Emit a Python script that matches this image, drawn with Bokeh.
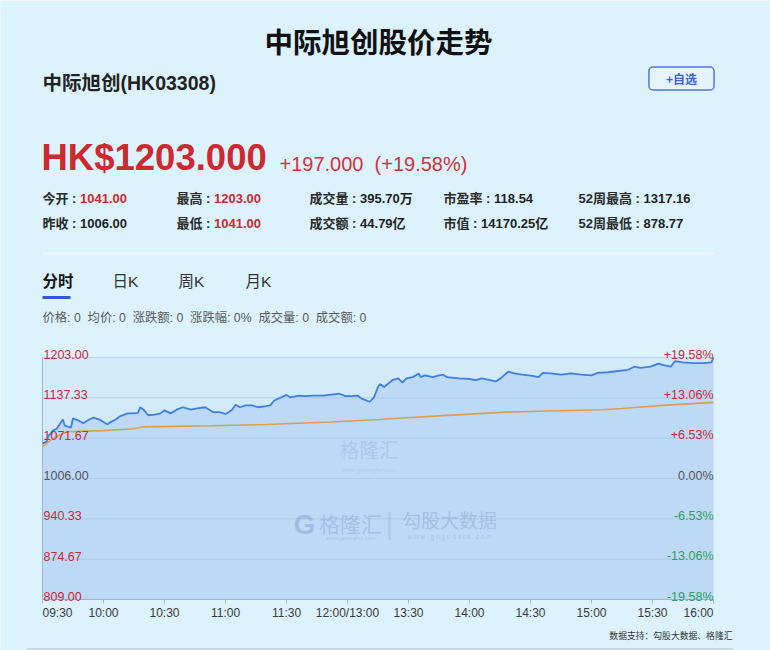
from bokeh.plotting import figure
from bokeh.models import Range1d, Label, ColumnDataSource
from bokeh.core.properties import value
from bokeh.embed import file_html
from bokeh.resources import INLINE

# ---------------- data ----------------
TITLE = "中际旭创股价走势"
STOCK_NAME = "中际旭创(HK03308)"
LAST_PRICE = "HK$1203.000"
CHANGE_TEXT = "+197.000\u00a0\u00a0(+19.58%)"

STAT_ROW1_LABELS = ["今开", "最高", "成交量", "市盈率", "52周最高"]
STAT_ROW1_VALUES = ["1041.00", "1203.00", "395.70万", "118.54", "1317.16"]
STAT_ROW1_RED = [True, True, False, False, False]
STAT_ROW2_LABELS = ["昨收", "最低", "成交额", "市值", "52周最低"]
STAT_ROW2_VALUES = ["1006.00", "1041.00", "44.79亿", "14170.25亿", "878.77"]
STAT_ROW2_RED = [False, True, False, False, False]

TABS = ["分时", "日K", "周K", "月K"]
INFO_ITEMS = ["价格: 0", "均价: 0", "涨跌额: 0", "涨跌幅: 0%", "成交量: 0", "成交额: 0"]
FOOTER = "数据支持：勾股大数据、格隆汇"

PREV_CLOSE = 1006.0
Y_TICKS = [809.00, 874.67, 940.33, 1006.00, 1071.67, 1137.33, 1203.00]
Y_LEFT_LABELS = ["809.00", "874.67", "940.33", "1006.00", "1071.67", "1137.33", "1203.00"]
Y_RIGHT_LABELS = ["-19.58%", "-13.06%", "-6.53%", "0.00%", "+6.53%", "+13.06%", "+19.58%"]

X_TICKS = [0, 30, 60, 90, 120, 150, 180, 210, 240, 270, 300, 330]
X_LABELS = ["09:30", "10:00", "10:30", "11:00", "11:30", "12:00/13:00",
            "13:30", "14:00", "14:30", "15:00", "15:30", "16:00"]

# trading minutes since open (lunch break removed) and price
TIME_MIN = [0, 2, 3, 4, 5, 7, 10, 11, 14, 15,
            18, 20, 23, 25, 28, 32, 33, 36, 38, 42,
            45, 47, 48, 50, 52, 55, 58, 60, 63, 66,
            69, 73, 76, 80, 84, 87, 90, 93, 95, 97,
            100, 103, 106, 110, 112, 114, 116, 120, 122, 126,
            129, 133, 138, 143, 146, 149, 152, 155, 157, 161,
            163, 165, 166, 168, 171, 172, 175, 177, 179, 182,
            185, 186, 188, 192, 195, 197, 199, 205, 210, 213,
            216, 219, 223, 226, 229, 232, 236, 241, 244, 246,
            250, 255, 260, 265, 270, 273, 278, 283, 288, 291,
            294, 299, 303, 306, 309, 311, 315, 320, 325, 329,
            330]
PRICE = [1063, 1066, 1076, 1079, 1084, 1087, 1102, 1092, 1089, 1104,
         1100, 1096, 1102, 1105, 1102, 1094, 1097, 1102, 1107, 1112,
         1112, 1113, 1122, 1117, 1109, 1110, 1112, 1117, 1112, 1118,
         1122, 1118, 1120, 1122, 1114, 1114, 1111, 1117, 1126, 1122,
         1125, 1125, 1122, 1124, 1125, 1133, 1136, 1142, 1138, 1141,
         1140, 1141, 1141, 1143, 1144, 1140, 1140, 1141, 1136, 1131,
         1138, 1155, 1160, 1155, 1163, 1166, 1169, 1162, 1169, 1171,
         1177, 1171, 1174, 1171, 1174, 1175, 1171, 1169, 1168, 1166,
         1169, 1167, 1164, 1171, 1180, 1177, 1175, 1173, 1171, 1178,
         1177, 1175, 1177, 1175, 1174, 1178, 1179, 1181, 1183, 1188,
         1186, 1188, 1193, 1190, 1188, 1197, 1195, 1194, 1194, 1195,
         1203]

AVG_TIME = [0, 4, 8, 12, 30, 45, 49, 83, 110, 142, 166, 175, 195, 228, 248, 275, 285, 305, 330]
AVG_PRICE = [1058, 1068, 1076, 1082, 1084, 1087, 1090, 1092, 1094, 1098, 1102, 1104, 1108,
             1114, 1116, 1118, 1120, 1125, 1130]

# ---------------- styles / layout ----------------
PAGE_BG = "#dcf2fc"
PLOT_BG = "#d3eafa"
AREA_FILL = "#bdd9f6"
PRICE_COLOR = "#3f7fe0"
AVG_COLOR = "#d9a04e"
RED = "#cc2a2f"
GREEN = "#2f9e5f"
GRAY = "#555555"
CJK = "Noto Sans CJK SC"
LATIN = "Liberation Sans, Noto Sans CJK SC"
NBSP2 = "\u00a0\u00a0"

W, H = 770, 650
# pixel geometry of the chart area on the page
FL, FR = 42, 713        # x of first / last time tick
GT, GB = 357, 599       # y of top / bottom gridline
PXY = (Y_TICKS[-1] - Y_TICKS[0]) / (GB - GT)
PXX = (X_TICKS[-1] - X_TICKS[0]) / (FR - FL)
X_START = X_TICKS[0] - FL * PXX
X_END = X_TICKS[-1] + (W - FR) * PXX
Y_TOP = Y_TICKS[-1] + GT * PXY
Y_BOTTOM = Y_TICKS[0] - (H - GB) * PXY


def dx(X):  # page px -> data x (for decorations only)
    return X_START + X * PXX


def dy(Y):  # page px -> data y (for decorations only)
    return Y_TOP - Y * PXY


p = figure(width=W, height=H, output_backend="svg", toolbar_location=None,
           x_range=Range1d(X_START, X_END), y_range=Range1d(Y_BOTTOM, Y_TOP),
           x_axis_type=None, y_axis_type=None,
           min_border_left=0, min_border_right=0, min_border_top=0, min_border_bottom=0)
p.outline_line_color = None
p.background_fill_color = PAGE_BG
p.border_fill_color = PAGE_BG

# plot area background
p.varea(x=[X_TICKS[0], X_TICKS[-1]], y1=[Y_TICKS[0]] * 2, y2=[Y_TICKS[-1]] * 2,
        fill_color=PLOT_BG)
# area under price
p.varea(x=TIME_MIN, y1=[Y_TICKS[0]] * len(TIME_MIN), y2=PRICE, fill_color=AREA_FILL)

# grid lines
p.segment(x0=[X_TICKS[0]] * len(Y_TICKS), x1=[X_TICKS[-1]] * len(Y_TICKS),
          y0=Y_TICKS, y1=Y_TICKS, line_color="#a9c3de", line_alpha=0.7, line_width=1)
# left border
p.segment(x0=[X_TICKS[0]], x1=[X_TICKS[0]], y0=[Y_TICKS[0]], y1=[Y_TICKS[-1]],
          line_color="#9fb8d2", line_width=1)
# bottom axis line and ticks
p.segment(x0=[X_TICKS[0]], x1=[X_TICKS[-1]], y0=[Y_TICKS[0]], y1=[Y_TICKS[0]],
          line_color="#9fb5cc", line_width=1)
p.segment(x0=X_TICKS, x1=X_TICKS, y0=[Y_TICKS[0]] * len(X_TICKS),
          y1=[Y_TICKS[0] - 4 * PXY] * len(X_TICKS), line_color="#9fb5cc", line_width=1)

# lines
p.line(AVG_TIME, AVG_PRICE, line_color=AVG_COLOR, line_width=1.6)
p.line(TIME_MIN, PRICE, line_color=PRICE_COLOR, line_width=1.8)


def lcol(v):
    return GRAY if abs(v - PREV_CLOSE) < 1e-6 else RED


def rcol(v):
    if abs(v - PREV_CLOSE) < 1e-6:
        return GRAY
    return RED if v > PREV_CLOSE else GREEN


ysrc = ColumnDataSource(dict(y=Y_TICKS, left=Y_LEFT_LABELS, right=Y_RIGHT_LABELS,
                             lc=[lcol(v) for v in Y_TICKS], rc=[rcol(v) for v in Y_TICKS]))
p.text(x=X_TICKS[0], y="y", text="left", source=ysrc, text_color="lc",
       text_font_size="12.5px", text_baseline="alphabetic", text_align="left",
       x_offset=1, y_offset=-3, text_font=value(LATIN))
p.text(x=X_TICKS[-1], y="y", text="right", source=ysrc, text_color="rc",
       text_font_size="12.5px", text_baseline="alphabetic", text_align="right",
       x_offset=0, y_offset=-3, text_font=value(LATIN))

aligns = ["left"] + ["center"] * (len(X_TICKS) - 2) + ["right"]
xsrc = ColumnDataSource(dict(x=X_TICKS, t=X_LABELS, a=aligns))
p.text(x="x", y=Y_TICKS[0], text="t", source=xsrc, text_align="a",
       text_baseline="middle", y_offset=13, text_font_size="12px",
       text_color="#3a3a3a", text_font=value(LATIN))

# ---------------- decorations ----------------
# separator under the stats block
p.segment(x0=[dx(42)], x1=[dx(713)], y0=[dy(253)], y1=[dy(253)],
          line_color="#f0f9fe", line_width=1.3)
# active tab underline
p.segment(x0=[dx(42)], x1=[dx(70)], y0=[dy(297)], y1=[dy(297)],
          line_color="#3456d8", line_width=3)
# dashed footer rule
p.segment(x0=[dx(27)], x1=[dx(733)], y0=[dy(648.5)], y1=[dy(648.5)],
          line_color="#8a8a8a", line_width=1, line_dash="1 1")


# ---------------- page texts (screen px, page coords) ----------------
def lab(X, Y, text, size, color="#222222", bold=False, align="left",
        baseline="middle", font=CJK, alpha=1.0, **kw):
    lb = Label(x=X, y=H - Y, x_units="screen", y_units="screen",
               text=text, text_font_size=f"{size}px", text_color=color,
               text_font_style="bold" if bold else "normal", text_align=align,
               text_baseline=baseline, text_font=font, text_alpha=alpha, **kw)
    p.add_layout(lb)
    return lb


def tw(s, size):
    w = 0.0
    for c in s:
        if ord(c) > 0x2E80:
            w += size
        elif c.isdigit():
            w += 0.556 * size
        elif c == " ":
            w += 0.278 * size
        else:
            w += 0.333 * size
    return w


lab(378, 40, TITLE, 28.5, color="#111111", bold=True, align="center")
lab(42, 82, STOCK_NAME, 19.5, color="#222222", bold=True, font=LATIN)
lab(681, 78, "+自选", 12, color="#3d5fd8", bold=True, align="center",
    border_line_color="#5375e0", border_line_width=1.5, background_fill_color="#e6f4fe",
    padding=(17, 3), border_radius=4)

lab(41, 157, LAST_PRICE, 36.5, color=RED, bold=True, baseline="alphabetic", font="Liberation Sans")
lab(279, 163, CHANGE_TEXT, 20, color="#d0343a", baseline="alphabetic", font="Liberation Sans")

COLS = [42, 176, 309, 443, 578]
for Y, labels, values, reds in [(198, STAT_ROW1_LABELS, STAT_ROW1_VALUES, STAT_ROW1_RED),
                                (223, STAT_ROW2_LABELS, STAT_ROW2_VALUES, STAT_ROW2_RED)]:
    for X, l, v, r in zip(COLS, labels, values, reds):
        head = l + " : "
        lab(X, Y, head, 13, color="#2a2a2a", bold=True, font=LATIN)
        lab(X + tw(head, 13), Y, v, 13, color=RED if r else "#1e1e1e", bold=True, font=LATIN)

TAB_X = [42, 112, 178, 245]
for i, (X, t) in enumerate(zip(TAB_X, TABS)):
    lab(X, 281, t, 15.5, color="#111111" if i == 0 else "#333333", bold=(i == 0), font=LATIN)
lab(42, 317, NBSP2.join(INFO_ITEMS), 12.3, color="#5a5a5a", font=LATIN)

# watermarks
WM = "#7fa2c9"
lab(369, 449, "格隆汇", 20, color=WM, alpha=0.3, align="center")
lab(369, 469, "www.gelonghui.com", 6, color=WM, alpha=0.3, align="center", font="Liberation Sans")
lab(304, 524, "G", 28, color=WM, alpha=0.5, bold=True, align="center", font="Liberation Sans")
lab(350, 522, "格隆汇", 21, color=WM, alpha=0.45, align="center")
lab(350, 537, "www.gelonghui.com", 5.5, color=WM, alpha=0.4, align="center", font="Liberation Sans")
lab(389, 523, "|", 30, color=WM, alpha=0.3, align="center", font="Liberation Sans")
lab(449, 519, "勾股大数据", 19, color=WM, alpha=0.45, align="center")
lab(449, 536, "w w w . g o g u d a t a . c o m", 6.5, color=WM, alpha=0.45, align="center",
    font="Liberation Sans")

lab(732, 635, FOOTER, 8.8, color="#333333", align="right")

open("out.html", "w").write(file_html(p, INLINE))
